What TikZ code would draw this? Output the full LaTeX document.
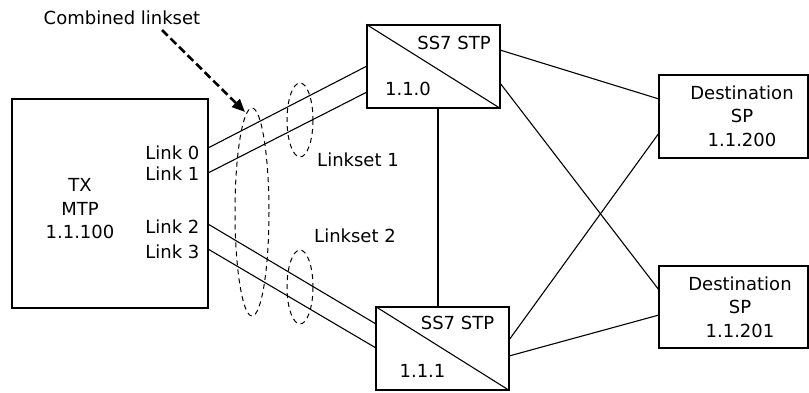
\documentclass[tikz,border=0pt]{standalone}
\usepackage{fontspec}
\setmainfont{DejaVu Sans}
\usetikzlibrary{arrows.meta}
\begin{document}
\begin{tikzpicture}[x=1pt,y=-1pt,line width=1.1pt,
  box/.style={draw,rectangle,inner sep=0pt},
  txt/.style={font=\fontsize{18}{23.5}\selectfont,inner sep=0pt,align=center},
  ring/.style={draw,line width=1pt,dash pattern=on 5pt off 4pt}]
\useasboundingbox (0,0) rectangle (809,392);

% boxes
\node[box,minimum width=196pt,minimum height=209pt] (tx) at (110,203.5) {};
\node[box,minimum width=133pt,minimum height=83pt] (stp1) at (433.5,66.5) {};
\node[box,minimum width=133pt,minimum height=83pt] (stp2) at (442.5,348.5) {};
\node[box,minimum width=149pt,minimum height=83pt] (sp1) at (733.5,116.5) {};
\node[box,minimum width=149pt,minimum height=82pt] (sp2) at (733.5,307) {};

% STP diagonals
\draw (stp1.north west) -- (stp1.south east);
\draw (stp2.north west) -- (stp2.south east);

% texts
\node[txt] (txlbl) at (80,209) {TX\\MTP\\1.1.100};
\node[txt,anchor=east] (lk0) at (200,153) {Link 0};
\node[txt,anchor=east] (lk1) at (200,174) {Link 1};
\node[txt,anchor=east] (lk2) at (200,227) {Link 2};
\node[txt,anchor=east] (lk3) at (200,252) {Link 3};
\node[txt] (s1name) at (454,43) {SS7 STP};
\node[txt] (s1pc) at (408,89) {1.1.0};
\node[txt] (s2name) at (457.5,323) {SS7 STP};
\node[txt] (s2pc) at (422.5,371) {1.1.1};
\node[txt] (sp1lbl) at (742,116) {Destination\\SP\\1.1.200};
\node[txt] (sp2lbl) at (740,307) {Destination\\SP\\1.1.201};
\node[txt] (ls1) at (358,160) {Linkset 1};
\node[txt] (ls2) at (355,236) {Linkset 2};
\node[txt] (comb) at (122,18) {Combined linkset};

% link end points
\coordinate (a0) at (208,148);  \coordinate (b0) at (367,66);
\coordinate (a1) at (208,173);  \coordinate (b1) at (367,92);
\coordinate (a2) at (208,224);  \coordinate (b2) at (376,324);
\coordinate (a3) at (208,249);  \coordinate (b3) at (376,348);
\draw (a0) -- (b0);
\draw (a1) -- (b1);
\draw (a2) -- (b2);
\draw (a3) -- (b3);

% STP to destination links
\coordinate (c1) at (500,50);  \coordinate (d1) at (659,99);
\coordinate (c2) at (500,83);  \coordinate (d2) at (659,290);
\coordinate (c3) at (509,340); \coordinate (d3) at (659,133);
\coordinate (c4) at (509,356); \coordinate (d4) at (659,315);
\draw (c1) -- (d1);
\draw (c2) -- (d2);
\draw (c3) -- (d3);
\draw (c4) -- (d4);
\draw (stp1.south -| 438,0) -- (stp2.north -| 438,0);

% linkset rings
\draw[ring] (252,212) ellipse [x radius=17, y radius=104];
\draw[ring] (300,120) ellipse [x radius=13, y radius=37];
\draw[ring] (300,287) ellipse [x radius=13, y radius=37];

% pointer to combined linkset
\coordinate (ptip) at (245,112);
\draw[line width=2.6pt,dash pattern=on 8pt off 4pt,-{Triangle[length=13pt,width=11pt]}]
  (162,30) -- (ptip);
\end{tikzpicture}
\end{document}
